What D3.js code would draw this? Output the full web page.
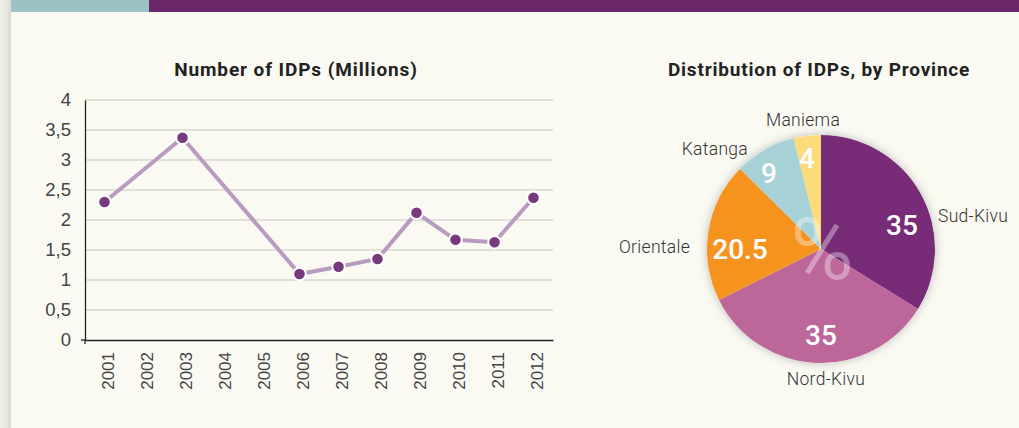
<!DOCTYPE html>
<html>
<head>
<meta charset="utf-8">
<script src="https://cdn.jsdelivr.net/npm/d3@7"></script>
<style>
  body { margin: 0; background: #fafaf3; }
  svg { display: block; font-family: Roboto, "Liberation Sans", sans-serif; }
</style>
</head>
<body>
<div id="chart"></div>
<script>
// line chart data
var years = [2001, 2002, 2003, 2004, 2005, 2006, 2007, 2008, 2009, 2010, 2011, 2012];
var idpYears = [2001, 2003, 2006, 2007, 2008, 2009, 2010, 2011, 2012];
var idpValues = [2.3, 3.37, 1.1, 1.22, 1.35, 2.12, 1.67, 1.63, 2.37];
var yTicks = [0, 0.5, 1, 1.5, 2, 2.5, 3, 3.5, 4];

// pie chart data
var provinces = ["Sud-Kivu", "Nord-Kivu", "Orientale", "Katanga", "Maniema"];
var shares = [35, 35, 20.5, 9, 4];
var pieColors = ["#782b77", "#bc6699", "#f6931f", "#a6d1d6", "#fcdc7a"];

var W = 1019, H = 428;
var svg = d3.select("#chart").append("svg")
    .attr("width", W)
    .attr("height", H);

var defs = svg.append("defs");
var shadowGrad = defs.append("linearGradient").attr("id", "edge");
shadowGrad.append("stop").attr("offset", "0%").attr("stop-color", "#f0f0e8");
shadowGrad.append("stop").attr("offset", "70%").attr("stop-color", "#e4e4dc");
shadowGrad.append("stop").attr("offset", "100%").attr("stop-color", "#d8d8d0");
var filt = defs.append("filter").attr("id", "pieShadow")
    .attr("x", "-20%").attr("y", "-20%").attr("width", "140%").attr("height", "140%");
filt.append("feDropShadow").attr("dx", 0).attr("dy", 0)
    .attr("stdDeviation", 5).attr("flood-color", "#000").attr("flood-opacity", 0.25);

// background + header bar
svg.append("rect").attr("width", W).attr("height", H).attr("fill", "#fafaf3");
svg.append("rect").attr("x", 0).attr("y", 0).attr("width", 11).attr("height", H).attr("fill", "url(#edge)");
svg.append("rect").attr("x", 11).attr("y", 0).attr("width", 138).attr("height", 12).attr("fill", "#9cc2c6");
svg.append("rect").attr("x", 149).attr("y", 0).attr("width", W - 149).attr("height", 12).attr("fill", "#6b2769");

// ---------- line chart ----------
var margin = {top: 100, left: 85},
    width = 468,
    height = 240;

var g = svg.append("g")
    .attr("transform", "translate(" + margin.left + "," + margin.top + ")");

var x = d3.scaleBand()
  .domain(years)
  .range([0, width])
  .padding(0);

var y = d3.scaleLinear()
  .domain([0, 4])
  .range([height, 0]);

// grid lines
g.append("g")
  .selectAll("line")
  .data(yTicks.slice(1))
  .enter()
  .append("line")
    .attr("x1", 0)
    .attr("x2", width)
    .attr("y1", function(d) { return y(d); })
    .attr("y2", function(d) { return y(d); })
    .attr("stroke", "#d8d8d0")
    .attr("stroke-width", 1.3);

// y axis
var yAxis = g.append("g")
  .call(d3.axisLeft(y).tickValues(yTicks).tickSize(0).tickPadding(14)
    .tickFormat(function(d) { return String(d).replace(".", ","); }));
yAxis.select(".domain").attr("stroke", "#222").attr("stroke-width", 1.3);
yAxis.selectAll("text")
  .attr("font-size", "18.5px")
  .attr("fill", "#444")
  .attr("font-weight", 300);
g.append("line").attr("x1", -4).attr("x2", 0).attr("y1", y(0)).attr("y2", y(0))
  .attr("stroke", "#222").attr("stroke-width", 1.3);

// x axis
var xAxis = g.append("g")
  .attr("transform", "translate(0," + height + ")")
  .call(d3.axisBottom(x).tickSize(0).tickPadding(0));
xAxis.select(".domain").attr("stroke", "#222").attr("stroke-width", 1.3);
xAxis.selectAll("text")
  .attr("transform", "rotate(-90)")
  .attr("text-anchor", "end")
  .attr("dy", "0.35em")
  .attr("x", -12)
  .attr("y", 3.5)
  .attr("font-size", "17px")
  .attr("fill", "#444")
  .attr("font-weight", 300);
g.append("line").attr("x1", 0).attr("x2", 0).attr("y1", height).attr("y2", height + 4)
  .attr("stroke", "#222").attr("stroke-width", 1.3);

var points = idpYears.map(function(yr, i) { return {year: yr, value: idpValues[i]}; });

var line = d3.line()
  .x(function(d) { return x(d.year) + x.bandwidth() / 2; })
  .y(function(d) { return y(d.value); });

g.append("path")
  .datum(points)
  .attr("fill", "none")
  .attr("stroke", "#b99bc0")
  .attr("stroke-width", 4)
  .attr("d", line);

g.append("g")
  .selectAll("circle")
  .data(points)
  .enter()
  .append("circle")
    .attr("cx", function(d) { return x(d.year) + x.bandwidth() / 2; })
    .attr("cy", function(d) { return y(d.value); })
    .attr("r", 6.3)
    .attr("fill", "#763a7d")
    .attr("stroke", "#fff")
    .attr("stroke-width", 2);

svg.append("text")
  .attr("x", 296)
  .attr("y", 76)
  .attr("text-anchor", "middle")
  .attr("font-size", "19px")
  .attr("letter-spacing", "0.9px")
  .attr("font-weight", "bold")
  .attr("fill", "#222")
  .text("Number of IDPs (Millions)");

// ---------- pie chart ----------
var cx = 821, cy = 249, r = 114;
var pg = svg.append("g").attr("transform", "translate(" + cx + "," + cy + ")");

var pieData = d3.pie().sort(null).value(function(d) { return d; })(shares);
var arc = d3.arc().innerRadius(0).outerRadius(r);

pg.append("circle").attr("r", r).attr("fill", "#fafaf3").attr("filter", "url(#pieShadow)");
pg.selectAll("path.slice")
  .data(pieData)
  .enter()
  .append("path")
    .attr("class", "slice")
    .attr("d", arc)
    .attr("fill", function(d, i) { return pieColors[i]; });

// big faint percent sign
pg.append("text")
  .attr("x", 1)
  .attr("y", 30)
  .attr("text-anchor", "middle")
  .attr("font-size", "86px")
  .attr("font-weight", 400)
  .attr("fill", "#ffffff")
  .attr("fill-opacity", 0.36)
  .text("%");

// value labels
var valuePos = [[81, -24], [0, 86], [-81, 0], [-52, -76], [-14, -91]];
pg.selectAll("text.val")
  .data(pieData)
  .enter()
  .append("text")
    .attr("class", "val")
    .attr("x", function(d, i) { return valuePos[i][0]; })
    .attr("y", function(d, i) { return valuePos[i][1]; })
    .attr("dy", "0.35em")
    .attr("text-anchor", "middle")
    .attr("font-size", "28px")
    .attr("font-weight", 500)
    .attr("fill", "#fff")
    .text(function(d) { return d.data; });

// province labels
var labelPos = [[117, -33, "start"], [5, 130, "middle"], [-131, -2, "end"], [-73, -100, "end"], [-18, -129, "middle"]];
pg.selectAll("text.name")
  .data(provinces)
  .enter()
  .append("text")
    .attr("class", "name")
    .attr("x", function(d, i) { return labelPos[i][0]; })
    .attr("y", function(d, i) { return labelPos[i][1]; })
    .attr("dy", "0.35em")
    .attr("text-anchor", function(d, i) { return labelPos[i][2]; })
    .attr("font-size", "17.5px")
    .attr("letter-spacing", "0.3px")
    .attr("font-weight", 300)
    .attr("fill", "#333")
    .text(function(d) { return d; });

svg.append("text")
  .attr("x", 819)
  .attr("y", 76)
  .attr("text-anchor", "middle")
  .attr("font-size", "19px")
  .attr("letter-spacing", "0.8px")
  .attr("font-weight", "bold")
  .attr("fill", "#222")
  .text("Distribution of IDPs, by Province");
</script>
</body>
</html>
